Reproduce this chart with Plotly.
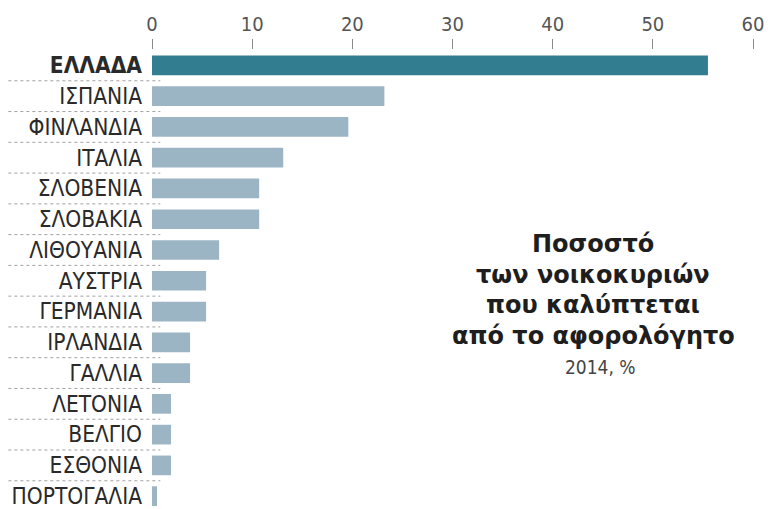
import plotly.graph_objects as go

# Share of households covered by the tax-free threshold, 2014 (%)
countries = ["ΕΛΛΑΔΑ", "ΙΣΠΑΝΙΑ", "ΦΙΝΛΑΝΔΙΑ", "ΙΤΑΛΙΑ", "ΣΛΟΒΕΝΙΑ", "ΣΛΟΒΑΚΙΑ",
             "ΛΙΘΟΥΑΝΙΑ", "ΑΥΣΤΡΙΑ", "ΓΕΡΜΑΝΙΑ", "ΙΡΛΑΝΔΙΑ", "ΓΑΛΛΙΑ",
             "ΛΕΤΟΝΙΑ", "ΒΕΛΓΙΟ", "ΕΣΘΟΝΙΑ", "ΠΟΡΤΟΓΑΛΙΑ"]
values = [55.5, 23.2, 19.6, 13.1, 10.7, 10.7, 6.7, 5.4, 5.4, 3.8, 3.8, 1.9, 1.9, 1.9, 0.5]
highlight = "ΕΛΛΑΔΑ"

x_ticks = [0, 10, 20, 30, 40, 50, 60]

title_lines = ["Ποσοστό", "των νοικοκυριών", "που καλύπτεται", "από το αφορολόγητο"]
subtitle = "2014, %"

DARK = "#327d8f"
LIGHT = "#9bb5c5"
LABEL_FONT = "DejaVu Sans Condensed, Roboto, sans-serif"

idx = list(range(len(countries)))
colors = [DARK if c == highlight else LIGHT for c in countries]
ticktext = [f"<b>{c}</b>" if c == highlight else c for c in countries]

fig = go.Figure(go.Bar(
    x=values, y=idx, orientation="h",
    marker=dict(color=colors, line=dict(width=0)),
    width=0.64,
))

W, H = 768, 509
ml, mr = 151.7, 15
pw = W - ml - mr

def px_to_paper(px):
    return (px - ml) / pw

# thin separators under each country label
shapes = []
for i in range(len(countries) - 1):
    shapes.append(dict(
        type="line", xref="paper", yref="y",
        x0=px_to_paper(8), x1=px_to_paper(160), y0=i + 0.5, y1=i + 0.5,
        line=dict(color="#a0a0a0", width=1, dash="dot"),
    ))

annotations = []
for k, line in enumerate(title_lines):
    annotations.append(dict(
        text=f"<b>{line}</b>", xref="paper", yref="y",
        x=px_to_paper(593), y=5.8 + k * 1.0,
        showarrow=False, xanchor="center", yanchor="middle",
        font=dict(family="DejaVu Sans, sans-serif", size=24, color="#1e1e1e"),
    ))
annotations.append(dict(
    text=subtitle, xref="paper", yref="y",
    x=px_to_paper(600), y=5.8 + len(title_lines) * 1.0,
    showarrow=False, xanchor="center", yanchor="middle",
    font=dict(family=LABEL_FONT, size=19, color="#444444"),
))

fig.update_layout(
    width=W, height=H,
    margin=dict(l=ml, r=mr, t=49.5, b=0, pad=0),
    paper_bgcolor="white", plot_bgcolor="white",
    showlegend=False,
    shapes=shapes,
    annotations=annotations,
    xaxis=dict(
        side="top", range=[0, 60], tickvals=x_ticks,
        showgrid=False, zeroline=False, showline=False,
        ticks="outside", ticklen=10, tickwidth=1, tickcolor="#8a8a8a",
        tickfont=dict(family=LABEL_FONT, size=20, color="#555555"),
        fixedrange=True,
    ),
    yaxis=dict(
        range=[14.32, -0.5], tickvals=idx, ticktext=ticktext,
        showgrid=False, zeroline=False, showline=False,
        ticks="", ticklabelstandoff=9, ticklabeloverflow="allow",
        tickfont=dict(family=LABEL_FONT, size=22.5, color="#2a2a2a"),
        fixedrange=True,
    ),
)

fig.write_html("out.html")
